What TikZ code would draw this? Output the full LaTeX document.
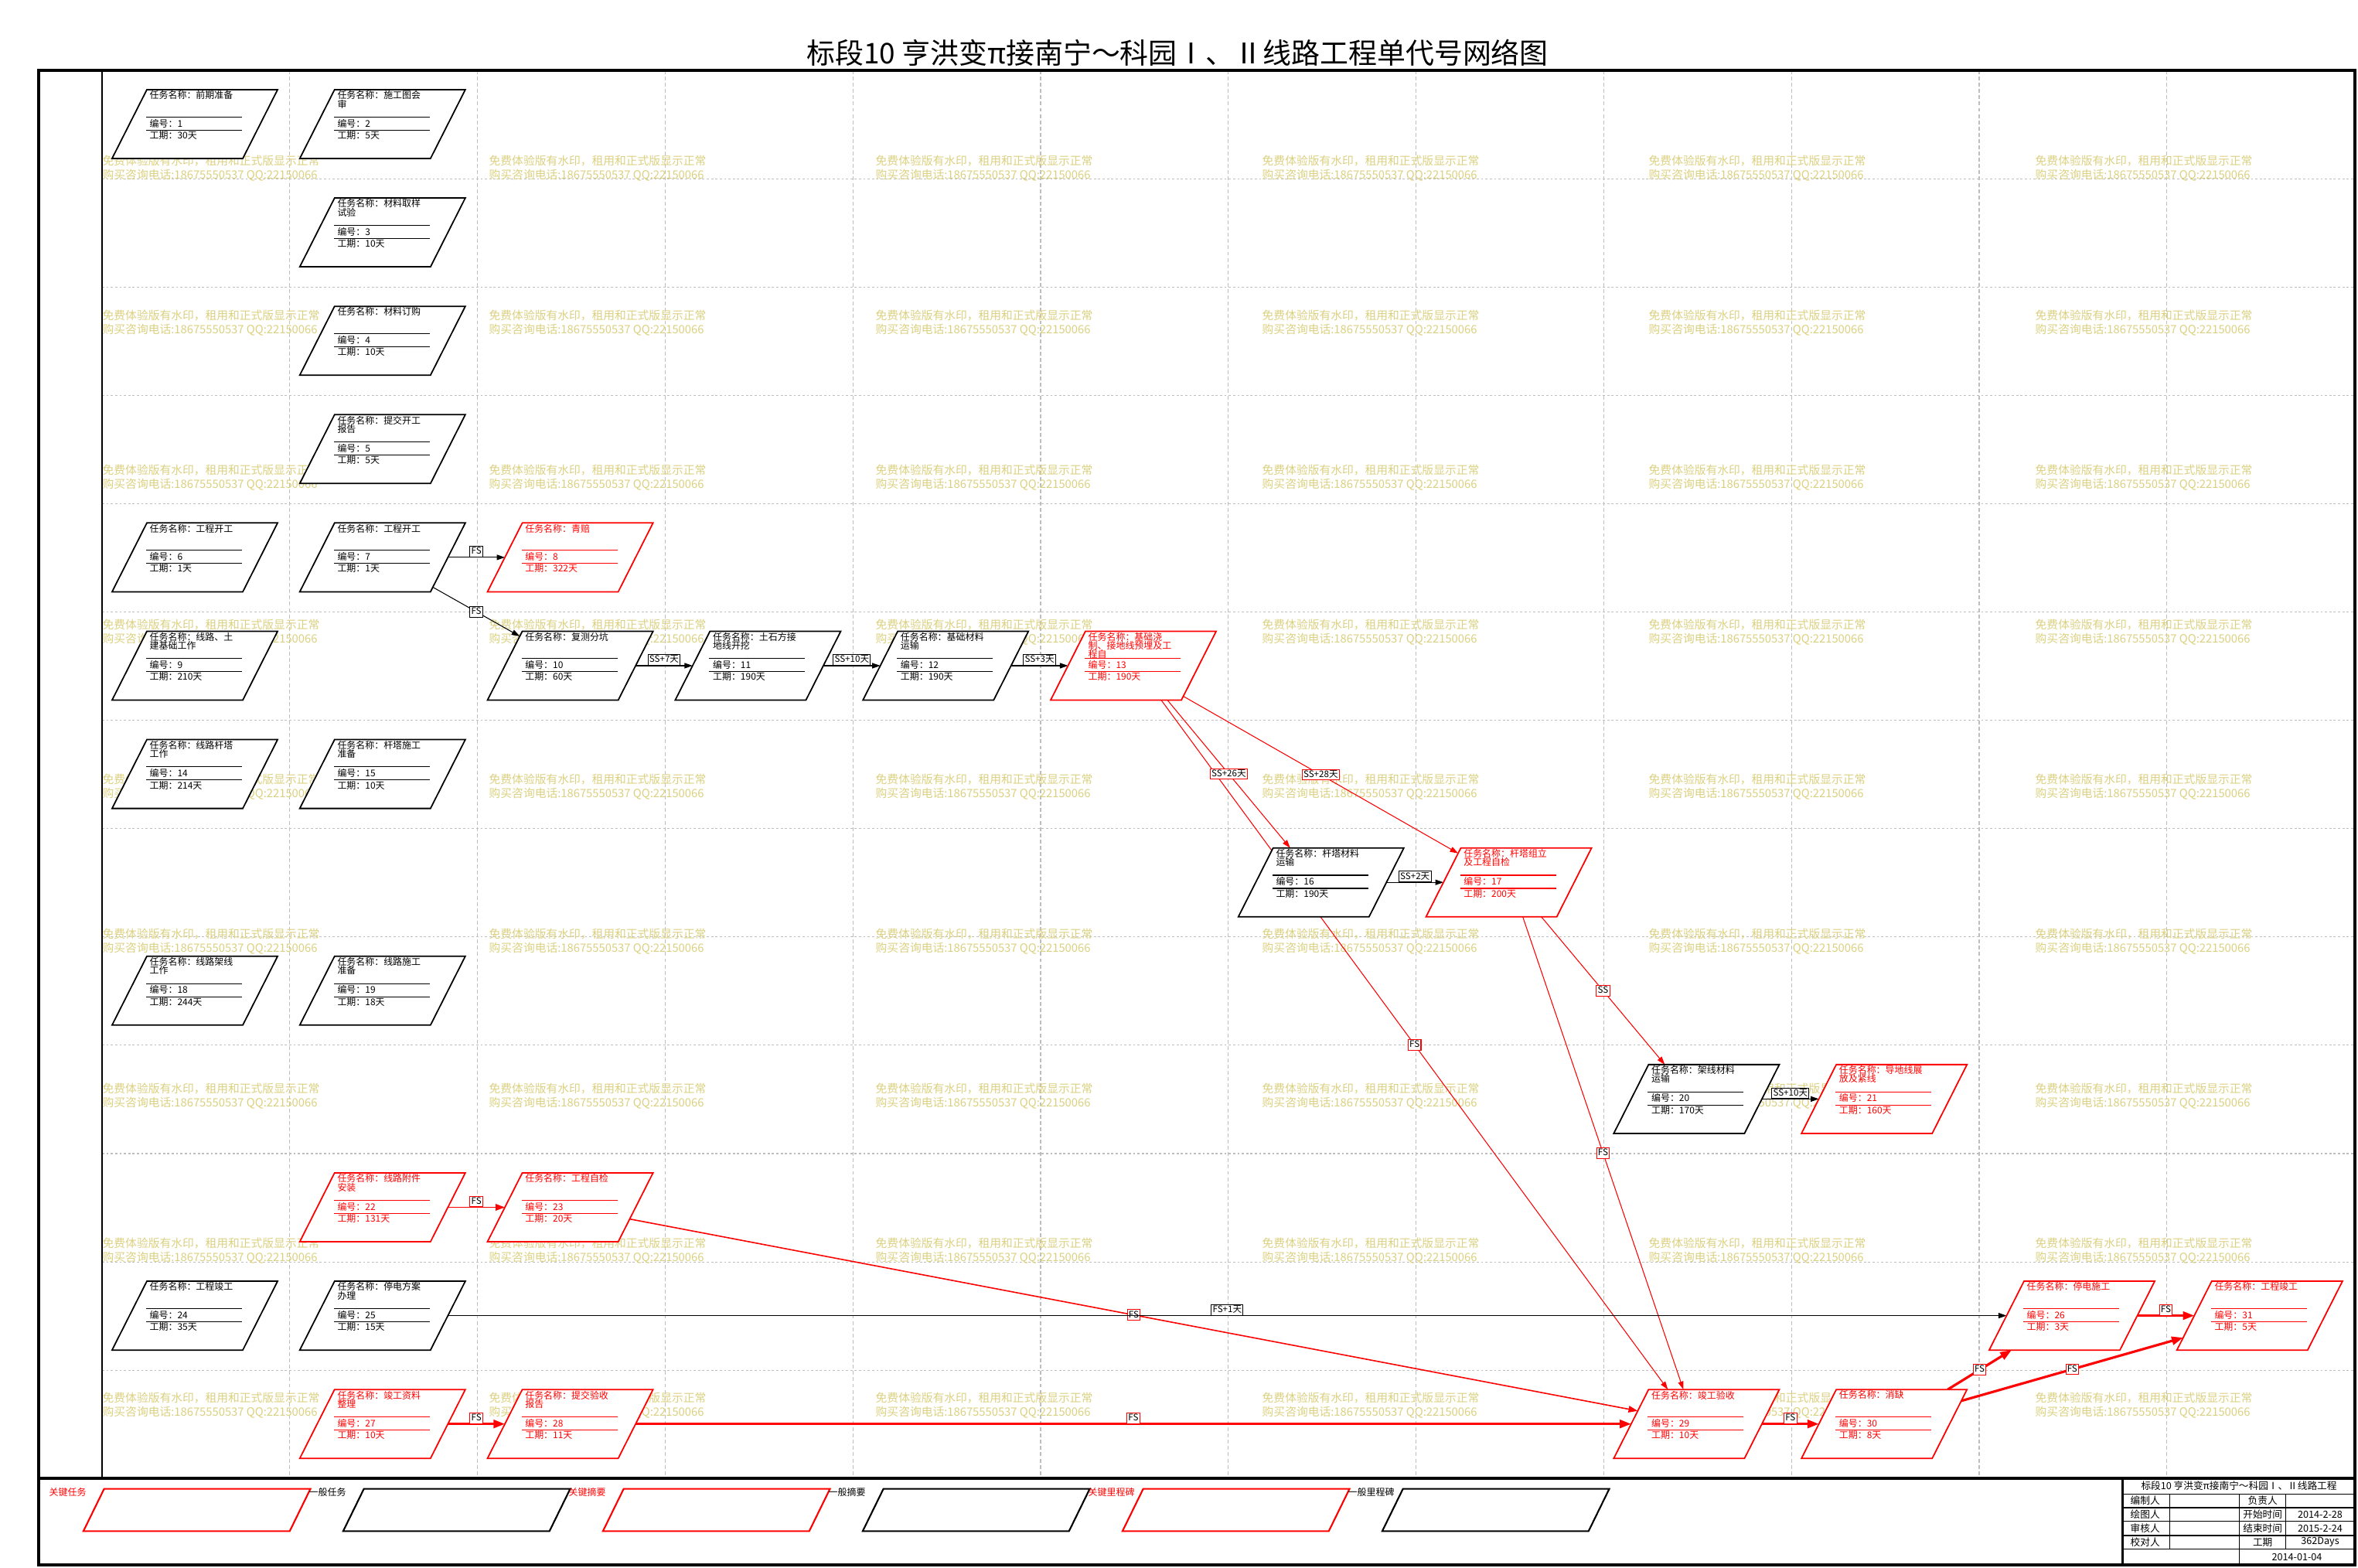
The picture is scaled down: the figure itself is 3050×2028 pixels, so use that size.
\documentclass[tikz,border=0pt]{standalone}
\usepackage{fontspec}
\setmainfont{Noto Sans CJK SC}
\usepackage{xcolor}
\definecolor{critical}{RGB}{255,0,0}
\definecolor{watermark}{RGB}{219,208,128}
\definecolor{gridline}{RGB}{190,190,190}
\usepackage{tikz}
\usetikzlibrary{positioning}
\usetikzlibrary{arrows.meta}
\usetikzlibrary{calc}
\usetikzlibrary{backgrounds}

\tikzset{
  taskbox/.style={rectangle,draw,fill=white,line width=0.5pt,inner sep=0,outer sep=0,minimum width=1.69cm,minimum height=0.89cm,xslant=0.5056,transform shape},
  keybox/.style={rectangle,draw,fill=white,line width=0.6pt,inner sep=0,outer sep=0,minimum width=2.667cm,minimum height=0.547cm,xslant=0.49,transform shape},
  tasktext/.style={inner sep=0,align=left,font=\fontsize{3.4}{3.2}\selectfont},
  keytext/.style={inner sep=0,anchor=west,font=\fontsize{3.4}{3.4}\selectfont},
  blocktext/.style={inner sep=0,font=\fontsize{3.6}{3.6}\selectfont},
  rule/.style={line width=0.3pt},
  link/.style={line width=0.3pt,-{Triangle[length=3pt,width=2pt]}},
  midlink/.style={line width=0.45pt,-{Triangle[length=3.4pt,width=2.4pt]}},
  boldlink/.style={line width=0.9pt,-{Triangle[length=4.2pt,width=3pt]}},
  lag/.style={draw,fill=white,text=black,line width=0.3pt,inner xsep=0.5pt,inner ysep=0.4pt,text height=2.5pt,text depth=0.6pt,font=\fontsize{3.3}{3.3}\selectfont},
  hgrid/.style={gridline,line width=0.3pt,dash pattern=on 0.8pt off 0.8pt},
  vgrid/.style={gridline,line width=0.3pt,dash pattern=on 1.4pt off 0.9pt},
  wmtext/.style={inner sep=0,anchor=north west,align=left,text=watermark,font=\fontsize{4.2}{5.1}\selectfont},
}

% name, column, row, colour, title, number, duration
\newcommand{\activity}[7]{%
  \pgfmathsetmacro{\colx}{132+242.8*#2}%
  \pgfmathsetmacro{\rowy}{91+140.1*#3}%
  \node (#1) at (\colx+120,\rowy+69.5) [taskbox,draw=#4] {};
  \node (#1name) at (\colx+61,\rowy+26) [tasktext,anchor=north west,text=#4] {#5};
  \draw [rule,#4] (\colx+57,\rowy+60.3) -- (\colx+181,\rowy+60.3);
  \draw [rule,#4] (\colx+57,\rowy+77.3) -- (\colx+181,\rowy+77.3);
  \node (#1no) at (\colx+61,\rowy+68.5) [tasktext,anchor=west,text=#4] {编号：#6};
  \node (#1dur) at (\colx+61,\rowy+84) [tasktext,anchor=west,text=#4] {工期：#7};
}

\begin{document}
\begin{tikzpicture}[x=0.01cm,y=-0.01cm]
\useasboundingbox (0,0) rectangle (3050,2028);

%title
\node (title) at (1523,68) [font=\fontsize{10.5}{12}\selectfont] {标段10 亨洪变π接南宁～科园Ⅰ、Ⅱ线路工程单代号网络图};

%activity boxes
\activity{t1}{0}{0}{black}{任务名称：前期准备}{1}{30天}
\activity{t2}{1}{0}{black}{任务名称：施工图会\\审}{2}{5天}
\activity{t3}{1}{1}{black}{任务名称：材料取样\\试验}{3}{10天}
\activity{t4}{1}{2}{black}{任务名称：材料订购}{4}{10天}
\activity{t5}{1}{3}{black}{任务名称：提交开工\\报告}{5}{5天}
\activity{t6}{0}{4}{black}{任务名称：工程开工}{6}{1天}
\activity{t7}{1}{4}{black}{任务名称：工程开工}{7}{1天}
\activity{t8}{2}{4}{critical}{任务名称：青赔}{8}{322天}
\activity{t9}{0}{5}{black}{任务名称：线路、土\\建基础工作}{9}{210天}
\activity{t10}{2}{5}{black}{任务名称：复测分坑}{10}{60天}
\activity{t11}{3}{5}{black}{任务名称：土石方接\\地线开挖}{11}{190天}
\activity{t12}{4}{5}{black}{任务名称：基础材料\\运输}{12}{190天}
\activity{t13}{5}{5}{critical}{任务名称：基础浇\\制、接地线预埋及工\\程自}{13}{190天}
\activity{t14}{0}{6}{black}{任务名称：线路杆塔\\工作}{14}{214天}
\activity{t15}{1}{6}{black}{任务名称：杆塔施工\\准备}{15}{10天}
\activity{t16}{6}{7}{black}{任务名称：杆塔材料\\运输}{16}{190天}
\activity{t17}{7}{7}{critical}{任务名称：杆塔组立\\及工程自检}{17}{200天}
\activity{t18}{0}{8}{black}{任务名称：线路架线\\工作}{18}{244天}
\activity{t19}{1}{8}{black}{任务名称：线路施工\\准备}{19}{18天}
\activity{t20}{8}{9}{black}{任务名称：架线材料\\运输}{20}{170天}
\activity{t21}{9}{9}{critical}{任务名称：导地线展\\放及紧线}{21}{160天}
\activity{t22}{1}{10}{critical}{任务名称：线路附件\\安装}{22}{131天}
\activity{t23}{2}{10}{critical}{任务名称：工程自检}{23}{20天}
\activity{t24}{0}{11}{black}{任务名称：工程竣工}{24}{35天}
\activity{t25}{1}{11}{black}{任务名称：停电方案\\办理}{25}{15天}
\activity{t26}{10}{11}{critical}{任务名称：停电施工}{26}{3天}
\activity{t27}{1}{12}{critical}{任务名称：竣工资料\\整理}{27}{10天}
\activity{t28}{2}{12}{critical}{任务名称：提交验收\\报告}{28}{11天}
\activity{t29}{8}{12}{critical}{任务名称：竣工验收}{29}{10天}
\activity{t30}{9}{12}{critical}{任务名称：消缺}{30}{8天}
\activity{t31}{11}{11}{critical}{任务名称：工程竣工}{31}{5天}

%legend
\foreach \k/\kname/\kcol in {0/关键任务/critical,1/一般任务/black,2/关键摘要/critical,3/一般摘要/black,4/关键里程碑/critical,5/一般里程碑/black}{
  \node (key\k) at ({254.7+336*\k},1953) [keybox,draw=\kcol] {};
  \node (keylabel\k) at ({63+336*\k},1930) [keytext,text=\kcol] {\kname};
}

%title block
\draw [line width=0.9pt] (2745.7,1912) -- (2745.7,2024);
\foreach \y in {1932.3,1950,1967.7,1986,2003.3}{
  \draw [rule] (2745.7,\y) -- (3046,\y);
}
\draw [rule] (2806.7,1932.3) -- (2806.7,2003.3);
\draw [rule] (2896.7,1932.3) -- (2896.7,2024);
\draw [rule] (2956.7,1932.3) -- (2956.7,2003.3);
\node (block) at (2896,1922) [blocktext] {标段10 亨洪变π接南宁～科园Ⅰ、Ⅱ线路工程};
\foreach \r/\who/\what/\val in {1/编制人/负责人/{},2/绘图人/开始时间/2014-2-28,3/审核人/结束时间/2015-2-24,4/校对人/工期/362Days}{
  \node (blockl\r) at (2755,{1941+17.9*(\r-1)}) [blocktext,anchor=west] {\who};
  \node (blockm\r) at (2926.7,{1941+17.9*(\r-1)}) [blocktext] {\what};
  \node (blockr\r) at (3001,{1941+17.9*(\r-1)}) [blocktext] {\val};
}
\node (blockdate) at (2971,2013.7) [blocktext] {2014-01-04};

%frame
\draw [line width=1.4pt] (50,91) rectangle (3046,2024);
\draw [line width=0.8pt] (132,91) -- (132,1912);
\draw [line width=1.1pt] (50,1912) -- (3046,1912);

%grid and watermark
\begin{scope}[on background layer]
\foreach \k in {1,...,11}{
  \draw [vgrid] ({132+242.8*\k},91) -- ({132+242.8*\k},1912);
}
\foreach \k in {1,...,12}{
  \draw [hgrid] (132,{91+140.1*\k}) -- (3046,{91+140.1*\k});
}
\foreach \i in {0,...,5}{
  \foreach \j in {0,...,8}{
    \node (wm\i\j) at ({132+500*\i},{200+200*\j}) [wmtext] {免费体验版有水印，租用和正式版显示正常\\购买咨询电话:18675550537 QQ:22150066};
  }
}
\end{scope}

%links
\begin{scope}[on background layer]
\draw [link] (t7.east) -- node[lag,anchor=south] {FS} (t8.west);
\draw [link] ($(t7.south east)+(3,-6)$) -- node[lag] {FS} ($(t10.north west)+(-3.3,6.5)$);
\draw [link] (t10.east) -- node[lag,anchor=south] {SS+7天} (t11.west);
\draw [link] (t11.east) -- node[lag,anchor=south] {SS+10天} (t12.west);
\draw [link] (t12.east) -- node[lag,anchor=south] {SS+3天} (t13.west);
\draw [link,critical] ($(t13.south east)+(-26,0)$) -- node[lag] {FS} ($(t29.north west)+(25,0)$);
\draw [link,critical] ($(t13.south east)+(-18,0)$) -- node[lag] {SS+26天} ($(t16.north west)+(22,0)$);
\draw [link,critical] ($(t13.south east)+(2.5,-5)$) -- node[lag] {SS+28天} ($(t17.north west)+(-3.5,7)$);
\draw [link] (t16.east) -- node[lag,anchor=south] {SS+2天} (t17.west);
\draw [link,critical] ($(t17.south east)+(-20,0)$) -- node[lag] {SS} ($(t20.north west)+(21,0)$);
\draw [link,critical] ($(t17.south east)+(-44,0)$) -- node[lag] {FS} ($(t29.north west)+(45,0)$);
\draw [link] (t20.east) -- node[lag,anchor=south] {SS+10天} (t21.west);
\draw [midlink,critical] (t22.east) -- node[lag,anchor=south] {FS} (t23.west);
\draw [midlink,critical] ($(t23.north east)!0.67!(t23.south east)$) -- node[lag] {FS} ($(t29.north west)!0.31!(t29.south west)$);
\draw [link] (t25.east) -- node[lag,anchor=south] {FS+1天} (t26.west);
\draw [boldlink,critical] (t27.east) -- node[lag,anchor=south] {FS} (t28.west);
\draw [boldlink,critical] (t28.east) -- node[lag,anchor=south] {FS} (t29.west);
\draw [boldlink,critical] (t29.east) -- node[lag,anchor=south] {FS} (t30.west);
\draw [boldlink,critical] ($(t30.north east)+(-25,0)$) -- node[lag] {FS} ($(t26.south west)+(29,0)$);
\draw [boldlink,critical] ($(t30.north east)!0.165!(t30.south east)$) -- node[lag] {FS} ($(t31.north west)!0.82!(t31.south west)$);
\draw [boldlink,critical] (t26.east) -- node[lag,anchor=south] {FS} (t31.west);
\end{scope}
\end{tikzpicture}
\end{document}
